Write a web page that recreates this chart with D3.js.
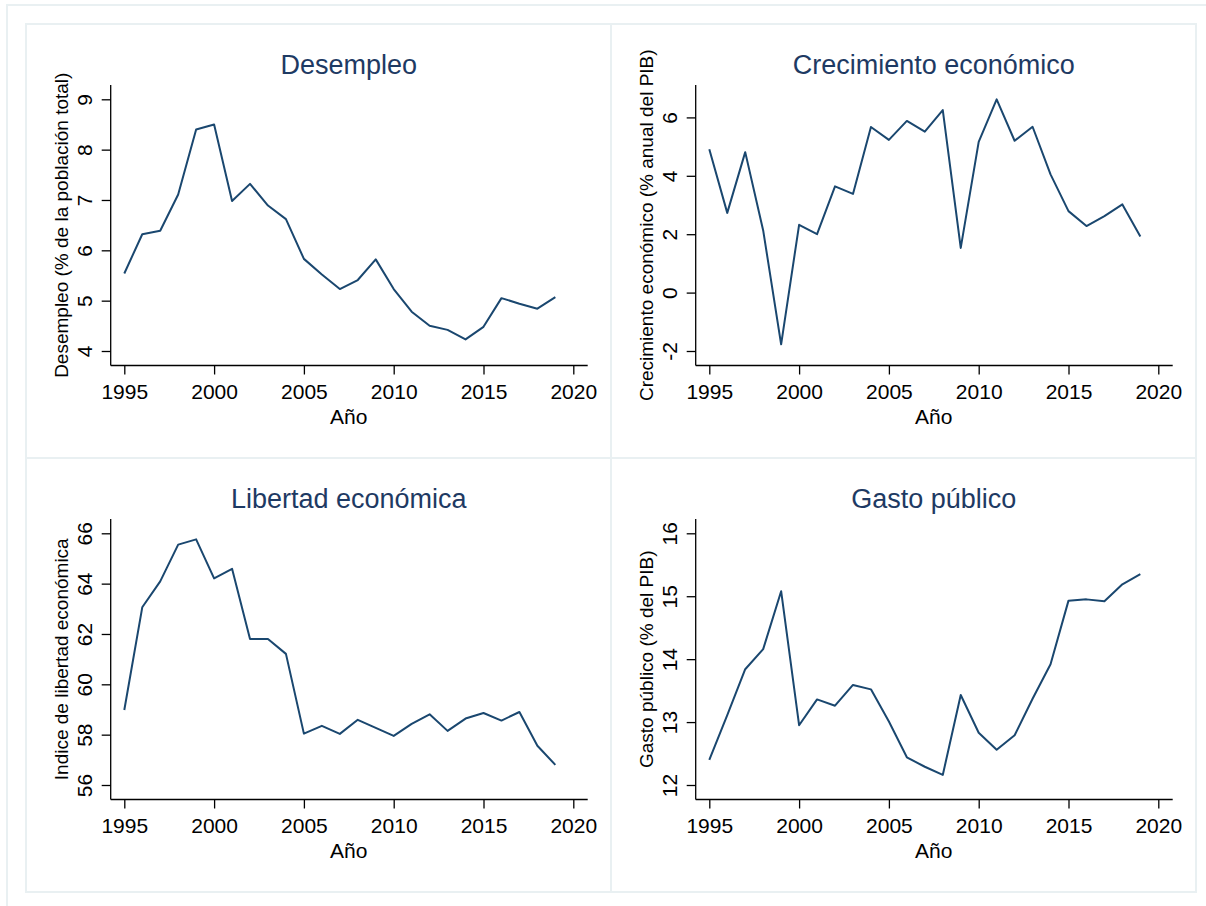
<!DOCTYPE html>
<html><head><meta charset="utf-8">
<script src="https://cdn.jsdelivr.net/npm/d3@7"></script>
<style>
body{margin:0;background:#fff}
text{font-family:"Liberation Sans",Arial,Helvetica,sans-serif}
</style>
</head><body>
<svg id="c" width="1206" height="906"></svg>
<script>
const years = [1995,1996,1997,1998,1999,2000,2001,2002,2003,2004,2005,2006,2007,2008,2009,2010,2011,2012,2013,2014,2015,2016,2017,2018,2019];
const desempleo = [5.54,6.32,6.39,7.11,8.40,8.50,6.98,7.32,6.89,6.62,5.83,5.52,5.23,5.41,5.82,5.23,4.78,4.50,4.42,4.23,4.48,5.05,4.94,4.84,5.07];
const crecimiento = [4.91,2.73,4.81,2.13,-1.77,2.32,2.00,3.64,3.38,5.67,5.23,5.88,5.51,6.25,1.53,5.16,6.62,5.20,5.68,4.05,2.79,2.28,2.62,3.02,1.92];
const libertad = [58.98,63.06,64.09,65.55,65.76,64.21,64.59,61.80,61.80,61.21,58.04,58.35,58.03,58.59,58.27,57.95,58.43,58.81,58.15,58.64,58.86,58.56,58.90,57.56,56.80];
const gasto = [12.40,13.11,13.84,14.16,15.08,12.95,13.36,13.26,13.59,13.52,13.01,12.44,12.29,12.16,13.43,12.83,12.56,12.79,13.37,13.92,14.93,14.95,14.92,15.19,15.35];

const xTicks = [1995,2000,2005,2010,2015,2020];
const desTicks = [4,5,6,7,8,9];
const creTicks = [-2,0,2,4,6];
const libTicks = [56,58,60,62,64,66];
const gasTicks = [12,13,14,15,16];

const titles = ["Desempleo","Crecimiento económico","Libertad económica","Gasto público"];
const yTitles = ["Desempleo (% de la población total)","Crecimiento económico (% anual del PIB)","Indice de libertad económica","Gasto público (% del PIB)"];
const xTitle = "Año";

const panels = [
  {col:0,row:0,values:desempleo,ticks:desTicks,title:titles[0],ytitle:yTitles[0]},
  {col:1,row:0,values:crecimiento,ticks:creTicks,title:titles[1],ytitle:yTitles[1]},
  {col:0,row:1,values:libertad,ticks:libTicks,title:titles[2],ytitle:yTitles[2]},
  {col:1,row:1,values:gasto,ticks:gasTicks,title:titles[3],ytitle:yTitles[3]}
];

const svg = d3.select('#c');
const frameCol = '#e9f0f2';
const navy = '#1a476f';
svg.append('rect').attr('x',7).attr('y',5).attr('width',1210).attr('height',910)
  .attr('fill','#fff').attr('stroke',frameCol).attr('stroke-width',2);

const PW = 585, PH = 434;
const lefts = [26,611], tops = [24,458];
const pTop = 61, pBottom = 341.5, aLeft = 84.7, aRight = 561.7;

panels.forEach(p => {
  const g = svg.append('g').attr('transform',`translate(${lefts[p.col]},${tops[p.row]})`);
  g.append('rect').attr('width',PW).attr('height',PH).attr('fill','#fff')
    .attr('stroke',frameCol).attr('stroke-width',2);

  const x = d3.scaleLinear().domain([1995,2020]).range([98.3,547.3]);
  const lo = Math.min(d3.min(p.values), d3.min(p.ticks));
  const hi = Math.max(d3.max(p.values), d3.max(p.ticks));
  const y = d3.scaleLinear().domain([lo,hi]).range([pBottom-14.5, pTop+14.3]);

  // x axis
  const xa = g.append('g').attr('transform',`translate(0,${pBottom})`)
    .call(d3.axisBottom(x).tickValues(xTicks).tickSize(9).tickSizeOuter(0).tickPadding(10).tickFormat(d=>String(d)));
  xa.select('.domain').remove();
  xa.selectAll('line').attr('stroke','#000').attr('stroke-width',1.3);
  xa.selectAll('text').attr('font-size',21).attr('fill','#000').style('font-family','"Liberation Sans",Arial,sans-serif');
  g.append('line').attr('x1',aLeft).attr('x2',aRight).attr('y1',pBottom).attr('y2',pBottom)
    .attr('stroke','#000').attr('stroke-width',1.3);

  // y axis
  const ya = g.append('g').attr('transform',`translate(${aLeft},0)`)
    .call(d3.axisLeft(y).tickValues(p.ticks).tickSize(9).tickSizeOuter(0).tickFormat(d=>String(d)));
  ya.select('.domain').remove();
  ya.selectAll('line').attr('stroke','#000').attr('stroke-width',1.3);
  ya.selectAll('text').attr('x',null).attr('dy',null).attr('text-anchor','middle')
    .attr('transform','translate(-18.5,0) rotate(-90)')
    .attr('font-size',21).attr('fill','#000').style('font-family','"Liberation Sans",Arial,sans-serif');
  g.append('line').attr('x1',aLeft).attr('x2',aLeft).attr('y1',pTop).attr('y2',pBottom)
    .attr('stroke','#000').attr('stroke-width',1.3);

  // series line
  const line = d3.line().x((d,i)=>x(years[i])).y(d=>y(d));
  g.append('path').datum(p.values).attr('d',line).attr('fill','none')
    .attr('stroke',navy).attr('stroke-width',2).attr('stroke-linejoin','round');

  // titles
  g.append('text').attr('x',(98.3+547.3)/2).attr('y',49.5).attr('text-anchor','middle')
    .attr('font-size',27).attr('fill','#1e3a63').text(p.title);
  g.append('text').attr('x',(98.3+547.3)/2).attr('y',pBottom+58).attr('text-anchor','middle')
    .attr('font-size',21).attr('fill','#000').text(xTitle);
  g.append('text').attr('transform',`translate(42,${(pTop+pBottom)/2}) rotate(-90)`)
    .attr('text-anchor','middle').attr('font-size',19).attr('fill','#000').text(p.ytitle);
});
</script>
</body></html>
